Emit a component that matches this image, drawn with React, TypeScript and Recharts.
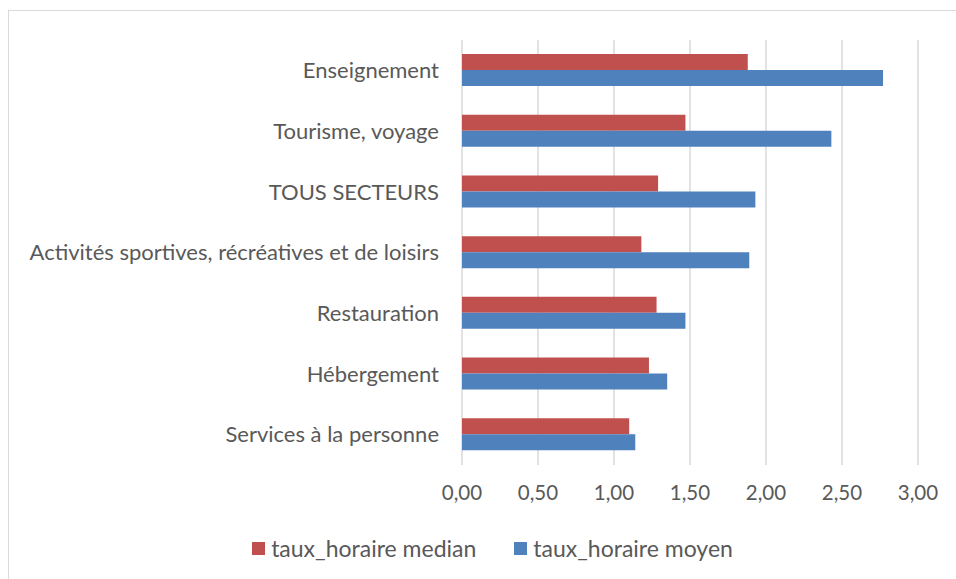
import React from 'react';
import { BarChart, Bar, XAxis, YAxis, CartesianGrid, Legend } from 'recharts';

const categories = [
  'Enseignement',
  'Tourisme, voyage',
  'TOUS SECTEURS',
  'Activités sportives, récréatives et de loisirs',
  'Restauration',
  'Hébergement',
  'Services à la personne',
];
const medianValues = [1.88, 1.47, 1.29, 1.18, 1.28, 1.23, 1.1];
const moyenValues = [2.77, 2.43, 1.93, 1.89, 1.47, 1.35, 1.14];
const xTicks = [0, 0.5, 1, 1.5, 2, 2.5, 3];

const seriesNames = ['taux_horaire median', 'taux_horaire moyen'];
const colors = ['#C0504D', '#4F81BD'];

const data = categories.map((name, i) => ({
  name,
  median: medianValues[i],
  moyen: moyenValues[i],
}));

const font = 'Lato, "Open Sans", sans-serif';
const textColor = '#595959';

const fmt = (v: number) => v.toFixed(2).replace('.', ',');

const renderLegend = () => (
  <div
    style={{
      display: 'flex',
      justifyContent: 'center',
      paddingLeft: 29,
      fontFamily: font,
      fontSize: 23,
      color: textColor,
      lineHeight: '24px',
    }}
  >
    {seriesNames.map((s, i) => (
      <div key={s} style={{ display: 'flex', alignItems: 'center', marginLeft: i ? 38 : 0 }}>
        <span style={{ width: 13, height: 13, background: colors[i], display: 'inline-block', marginRight: 6 }} />
        <span>{s}</span>
      </div>
    ))}
  </div>
);

export default function App() {
  return (
    <div style={{ position: 'fixed', left: 0, top: 0, width: 956, height: 579, overflow: 'hidden', background: '#fff' }}>
      <div
        style={{
          position: 'absolute',
          left: 8,
          top: 10,
          width: 1000,
          height: 700,
          border: '1px solid #D9D9D9',
        }}
      />
      <div style={{ position: 'absolute', left: 0, top: 0 }}>
        <BarChart
          width={956}
          height={579}
          data={data}
          layout="vertical"
          margin={{ top: 40, right: 38, left: 0, bottom: 0 }}
          barSize={16}
          barGap={0}
        >
          <CartesianGrid horizontal={false} stroke="#D9D9D9" strokeWidth={1.5} />
          <XAxis
            type="number"
            domain={[0, 3]}
            ticks={xTicks}
            tickFormatter={fmt}
            axisLine={false}
            tickLine={false}
            tickSize={0}
            tickMargin={20}
            height={90}
            tick={{ fill: textColor, fontSize: 20.5, fontFamily: font }}
          />
          <YAxis
            type="category"
            dataKey="name"
            width={462}
            axisLine={false}
            tickLine={false}
            tickSize={0}
            tickMargin={23}
            tick={{ fill: textColor, fontSize: 22, fontFamily: font }}
          />
          <Legend
            content={renderLegend}
            verticalAlign="bottom"
            wrapperStyle={{ left: 0, width: 956, bottom: 19 }}
          />
          <Bar dataKey="median" name={seriesNames[0]} fill={colors[0]} isAnimationActive={false} />
          <Bar dataKey="moyen" name={seriesNames[1]} fill={colors[1]} isAnimationActive={false} />
        </BarChart>
      </div>
    </div>
  );
}
